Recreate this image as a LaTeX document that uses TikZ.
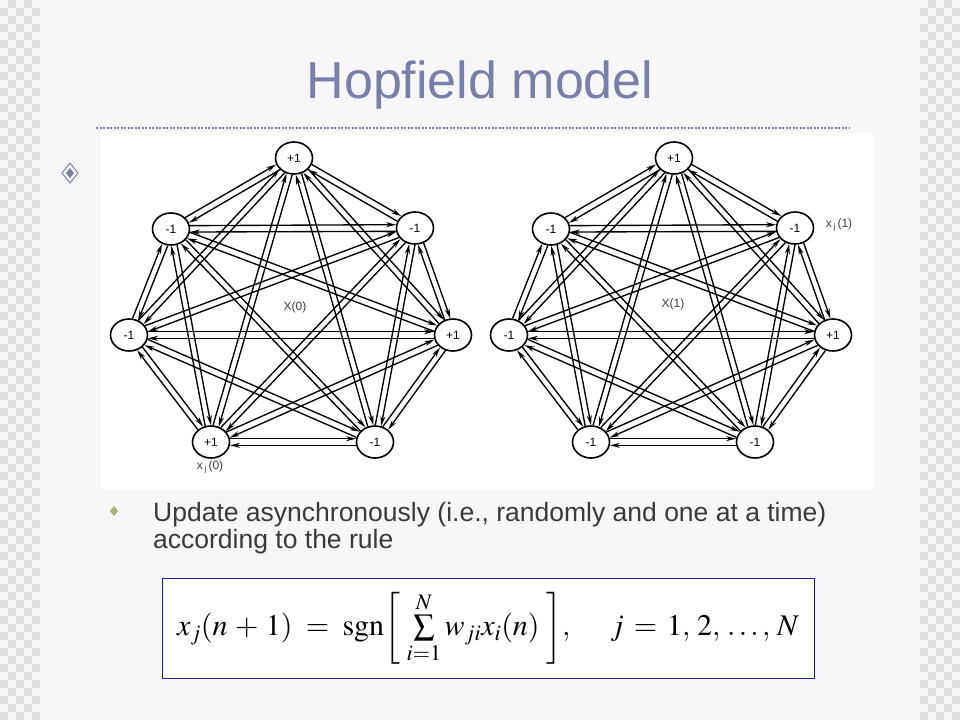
\documentclass[tikz,border=0pt]{standalone}
\usepackage{mathptmx}
\usepackage[no-math]{fontspec}
\setmainfont{Liberation Sans}
\usetikzlibrary{calc,arrows.meta,shapes.geometric}
\definecolor{bg}{HTML}{F7F7F7}
\definecolor{chk}{HTML}{DDDDDD}
\definecolor{titleblue}{HTML}{7880AA}
\definecolor{bulletgreen}{HTML}{A6B27C}
\definecolor{boxblue}{HTML}{1E1EA6}
\definecolor{bodygray}{HTML}{3A3A3A}
\tikzset{
  nd/.style={ellipse, draw, line width=1.6pt, fill=white, minimum width=37pt, minimum height=32pt, inner sep=0pt, font=\fontsize{12}{12}\selectfont},
  arr/.style={-{Stealth[length=10pt,width=5pt]}, line width=1.35pt},
  lbl/.style={font=\fontsize{12}{12}\selectfont, text=black!75},
  body/.style={anchor=base west, inner sep=0pt, font=\fontsize{26.5}{30}\selectfont, text=bodygray},
}
\begin{document}
\begin{tikzpicture}[x=1pt,y=-1pt]
\useasboundingbox (0,0) rectangle (960,720);
\fill[bg] (0,0) rectangle (960,720);
% checkered strips
\foreach \j in {0,...,89}{
  \ifodd\j \def\ilist{0,2,4}\else\def\ilist{1,3}\fi
  \foreach \i in \ilist {
    \fill[chk] (8*\i,8*\j) rectangle ++(8,8);
    \fill[chk] (920+8*\i,8*\j) rectangle ++(8,8);
  }
}
% title
\node[anchor=base, font=\fontsize{52}{60}\selectfont, text=titleblue, inner sep=0pt] (title) at (480,98) {Hopfield model};
\draw[titleblue, line width=2.5pt, dash pattern=on 2pt off 1.5pt] (96,128) -- (850,128);
% big diamond bullet
\draw[titleblue, line width=1pt] (70,163) -- (78,173) -- (70,183) -- (62,173) -- cycle;
\fill[titleblue] (70,168) -- (74,173) -- (70,178) -- (66,173) -- cycle;
% image area
\fill[white] (101,133) rectangle (873,490);
% graphs
\foreach \g/\dx in {A/0,B/380}{
  \begin{scope}[xshift=\dx]
  \node[nd] (\g1) at (294,158) {+1};
  \node[nd] (\g2) at (171,229) {-1};
  \node[nd] (\g3) at (415,228) {-1};
  \node[nd] (\g4) at (129,335) {-1};
  \node[nd] (\g5) at (453,335) {+1};
  \node[nd] (\g7) at (375,442) {-1};
  \end{scope}
}
\node[nd] (A6) at (211,442) {+1};
\node[nd] (B6) at (591,442) {-1};
\foreach \g in {A,B}{
  \foreach \a/\b in {1/2,1/3,1/4,1/5,1/6,1/7,2/3,2/4,2/5,2/6,2/7,3/4,3/5,3/6,3/7,4/5,4/6,4/7,5/6,5/7,6/7}{
    \draw[arr] let \p1=($(\g\b)-(\g\a)$), \n1={int(atan2(\y1,\x1)+10)}, \n2={int(atan2(\y1,\x1)+170)} in (\g\a.\n1) -- (\g\b.\n2);
    \draw[arr] let \p1=($(\g\b)-(\g\a)$), \n1={int(atan2(\y1,\x1)+190)}, \n2={int(atan2(\y1,\x1)-10)} in (\g\b.\n1) -- (\g\a.\n2);
  }
}
% graph labels
\node[lbl] (X0) at (295,307) {X(0)};
\node[lbl] (X1) at (673,304) {X(1)};
\node[lbl] (xj0) at (210,467) {x\,\raisebox{-2.5pt}{\fontsize{8}{8}\selectfont j}\,(0)};
\node[lbl] (xj1) at (839,225) {x\,\raisebox{-2.5pt}{\fontsize{8}{8}\selectfont j}\,(1)};
% small green bullet
\fill[bulletgreen] (114,506) -- (118,511) -- (114,516) -- (110,511) -- cycle;
\node[body] (line1) at (153,521) {Update asynchronously (i.e., randomly and one at a time)};
\node[body] (line2) at (153,548.5) {according to the rule};
% formula box
\node[draw=boxblue, fill=white, line width=1pt, minimum width=652pt, minimum height=100pt, inner sep=0pt, font=\fontsize{30}{34}\selectfont] (fbox) at (488,628) {$x_j(n \,+\, 1) \;=\; \mathrm{sgn}\!\left[\;\sum\limits_{i=1}^{N} w_{ji}x_i(n)\;\right]\!,\quad\; j \,=\, 1,\,2,\,\ldots,\,N$};
\end{tikzpicture}
\end{document}
